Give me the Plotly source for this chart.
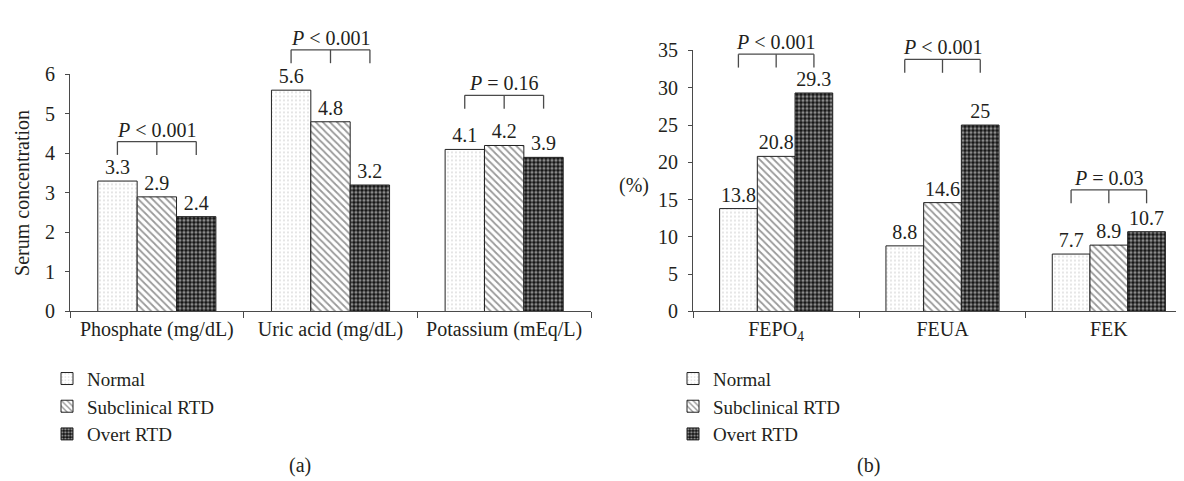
import plotly.graph_objects as go

# ---------------- data ----------------
cats_a = ["Phosphate (mg/dL)", "Uric acid (mg/dL)", "Potassium (mEq/L)"]
normal_a = [3.3, 5.6, 4.1]
subclin_a = [2.9, 4.8, 4.2]
overt_a = [2.4, 3.2, 3.9]
ptext_a = ["<i>P</i> &lt; 0.001", "<i>P</i> &lt; 0.001", "<i>P</i> = 0.16"]
bracket_a = [4.3, 6.62, 5.47]

cats_b = ["FEPO<sub>4</sub>", "FEUA", "FEK"]
normal_b = [13.8, 8.8, 7.7]
subclin_b = [20.8, 14.6, 8.9]
overt_b = [29.3, 25.0, 10.7]
ptext_b = ["<i>P</i> &lt; 0.001", "<i>P</i> &lt; 0.001", "<i>P</i> = 0.03"]
bracket_b = [34.5, 33.8, 16.3]

series_names = ["Normal", "Subclinical RTD", "Overt RTD"]

# ---------------- style ----------------
FONT = "Liberation Serif, DejaVu Serif, serif"
TXT = "#231f20"
AX = "#4a4a4a"
FS = 20
W, H = 1184, 481

patterns = [
    dict(shape=".", fgcolor="#a0a0a0", bgcolor="white", size=4, solidity=0.15),
    dict(shape="\\", fgcolor="#333333", bgcolor="white", size=5, solidity=0.35),
    dict(shape=".", fgcolor="white", bgcolor="#151515", size=4, solidity=0.5),
]

ydom_a = [1 - 306.5 / H, 1 - 58 / H]
ydom_b = [1 - 306.5 / H, 1 - 33 / H]
yr_a = [0, 6]
yr_b = [0, 35]

fig = go.Figure()

def add_panel(cats, series, xa, ya, legend):
    for name, vals, pat in zip(series_names, series, patterns):
        fig.add_trace(go.Bar(
            x=cats, y=vals, name=name, xaxis=xa, yaxis=ya, legend=legend,
            marker=dict(color="white", pattern=pat,
                        line=dict(color="#222222", width=1)),
            text=vals, texttemplate="%{y}", textposition="outside",
            textfont=dict(family=FONT, size=FS, color=TXT),
            cliponaxis=False,
        ))

add_panel(cats_a, [normal_a, subclin_a, overt_a], "x", "y", "legend")
add_panel(cats_b, [normal_b, subclin_b, overt_b], "x2", "y2", "legend2")

# brackets with P values (y converted to paper so they may sit above the axis)
off = 0.227
def to_paper(v, dom, rng):
    return dom[0] + (v - rng[0]) / (rng[1] - rng[0]) * (dom[1] - dom[0])

def add_brackets(brk, ptxt, xr, dom, rng, leg_px):
    leg = leg_px / H
    for i, (yb, t) in enumerate(zip(brk, ptxt)):
        yp = to_paper(yb, dom, rng)
        xs = [i - off, i, i + off]
        fig.add_shape(type="line", xref=xr, yref="paper", x0=xs[0], x1=xs[2],
                      y0=yp, y1=yp, line=dict(color=AX, width=1.3))
        for xv in xs:
            fig.add_shape(type="line", xref=xr, yref="paper", x0=xv, x1=xv,
                          y0=yp, y1=yp - leg, line=dict(color=AX, width=1.3))
        fig.add_annotation(x=i, y=yp, xref=xr, yref="paper", text=t,
                           showarrow=False, yanchor="bottom", yshift=-1,
                           font=dict(family=FONT, size=FS, color=TXT))

add_brackets(bracket_a, ptext_a, "x", ydom_a, yr_a, 14)
add_brackets(bracket_b, ptext_b, "x2", ydom_b, yr_b, 14)

axis_common = dict(showline=True, linecolor=AX, linewidth=1, ticks="outside",
                   tickcolor=AX, showgrid=False, zeroline=False,
                   tickfont=dict(family=FONT, size=FS, color=TXT))

legend_common = dict(xanchor="left", yanchor="top", bgcolor="rgba(0,0,0,0)",
                     tracegroupgap=0, font=dict(family=FONT, size=19, color=TXT))

fig.update_layout(
    width=W, height=H, margin=dict(l=0, r=0, t=0, b=0),
    paper_bgcolor="white", plot_bgcolor="white",
    barmode="group", bargap=0.32, bargroupgap=0,
    font=dict(family=FONT, size=FS, color=TXT),
    xaxis=dict(domain=[62 / W, 583 / W], anchor="y", tickson="boundaries",
               ticklen=6, **axis_common),
    yaxis=dict(domain=ydom_a, anchor="x", range=yr_a, dtick=1, ticklen=4,
               ticklabelstandoff=6,
               title=dict(text="Serum concentration", standoff=9,
                          font=dict(family=FONT, size=FS, color=TXT)),
               **axis_common),
    xaxis2=dict(domain=[685 / W, 1.0], anchor="y2", tickson="boundaries",
                ticklen=6, **axis_common),
    yaxis2=dict(domain=ydom_b, anchor="x2", range=yr_b, dtick=5, ticklen=4,
                ticklabelstandoff=6, **axis_common),
    legend=dict(x=39 / W, y=1 - 357 / H, **legend_common),
    legend2=dict(x=665 / W, y=1 - 357 / H, **legend_common),
    showlegend=True,
)

for xp, yp, t in [(626, 174, "(%)"), (292, 468, "(a)"), (860, 468, "(b)")]:
    fig.add_annotation(x=xp / W, y=1 - yp / H, xref="paper", yref="paper",
                       text=t, showarrow=False, xanchor="center",
                       yanchor="middle",
                       font=dict(family=FONT, size=FS, color=TXT))

fig.write_html("out.html")
